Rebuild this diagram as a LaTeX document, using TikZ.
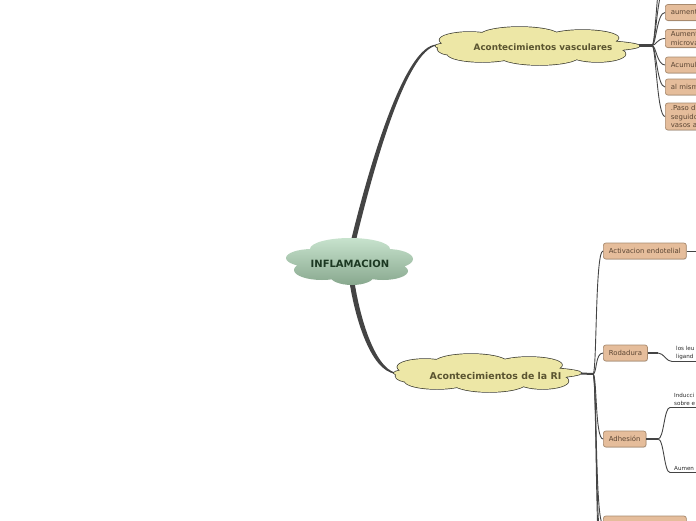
\documentclass[tikz,border=0pt]{standalone}
\usepackage{fontspec}
\setmainfont{DejaVu Sans}
\usetikzlibrary{shadows}
\definecolor{linec}{RGB}{68,68,68}
\definecolor{boxfill}{RGB}{229,189,155}
\definecolor{boxdraw}{RGB}{168,138,110}
\definecolor{boxtext}{RGB}{92,70,52}
\definecolor{cloudy}{RGB}{237,231,166}
\definecolor{cloudedge}{RGB}{60,60,50}
\definecolor{cloudytext}{RGB}{90,84,48}
\definecolor{greentop}{RGB}{202,229,208}
\definecolor{greenbot}{RGB}{132,164,138}
\definecolor{greentext}{RGB}{28,56,34}
\definecolor{leafc}{RGB}{40,40,40}
\begin{document}
\begin{tikzpicture}[x=1pt,y=-1pt,
  conn/.style={draw=linec, line width=0.9pt},
  thickconn/.style={draw=linec, line width=2.2pt},
  topicbox/.style={draw=boxdraw, fill=boxfill, rounded corners=2.5pt, line width=0.7pt,
    inner xsep=5.5pt, inner ysep=2.2pt, minimum height=16pt, text=boxtext,
    font=\fontsize{6.9}{8.6}\selectfont, align=left, anchor=west,
    drop shadow={shadow xshift=0.5pt, shadow yshift=-0.8pt, opacity=0.25}},
  cutbox/.style={topicbox, text width=50pt},
  leaftext/.style={inner xsep=4pt, inner ysep=1.5pt, font=\fontsize{5.6}{8}\selectfont,
    text=leafc, align=left, anchor=south west},
  cloudtext/.style={font=\bfseries\fontsize{8.8}{10}\selectfont, text=cloudytext},
  ycloud/.pic={
    \draw[draw=cloudedge, line width=1.4pt]
      (0,0) ellipse [x radius=102, y radius=7]
      (-68,-6) ellipse [x radius=30, y radius=8]
      (-18,-10) ellipse [x radius=40, y radius=9]
      (45,-8) ellipse [x radius=36, y radius=8]
      (-55,8) ellipse [x radius=35, y radius=8]
      (2,10) ellipse [x radius=40, y radius=9]
      (60,8) ellipse [x radius=28, y radius=8]
      (-85,3) ellipse [x radius=15, y radius=6]
      (0,0) ellipse [x radius=80, y radius=12];
    \fill[cloudy]
      (0,0) ellipse [x radius=102, y radius=7]
      (-68,-6) ellipse [x radius=30, y radius=8]
      (-18,-10) ellipse [x radius=40, y radius=9]
      (45,-8) ellipse [x radius=36, y radius=8]
      (-55,8) ellipse [x radius=35, y radius=8]
      (2,10) ellipse [x radius=40, y radius=9]
      (60,8) ellipse [x radius=28, y radius=8]
      (-85,3) ellipse [x radius=15, y radius=6]
      (0,0) ellipse [x radius=80, y radius=12];
  },
  gcloud/.pic={
    \begin{scope}
      \clip
        (0,-13) ellipse [x radius=40, y radius=11]
        (-38,-4) ellipse [x radius=26, y radius=9]
        (37,-3) ellipse [x radius=26, y radius=10]
        (-28,8) ellipse [x radius=28, y radius=10]
        (33,9) ellipse [x radius=25, y radius=9]
        (2,14) ellipse [x radius=22, y radius=9]
        (0,0) ellipse [x radius=50, y radius=15];
      \shade[top color=greentop, bottom color=greenbot] (-70,-26) rectangle (70,26);
    \end{scope}
  }]
\useasboundingbox (0,0) rectangle (696,520);
\clip (0,0) rectangle (696,520);

% main tapered connectors
\fill[linec] (347.5,255) .. controls (367.5,170) and (404,44.5) .. (437,44.5)
  -- (437,45.5) .. controls (406,49.5) and (372.5,170) .. (352.5,255) -- cycle;
\fill[linec] (347.5,268) .. controls (353.5,318) and (371,371) .. (395,373.6)
  -- (395,372.6) .. controls (375,367) and (358.5,318) .. (352.5,268) -- cycle;

% clouds
\pic at (350,262) {gcloud};
\pic at (537.5,46) {ycloud};
\pic[xscale=0.92] at (487.5,373) {ycloud};

\node[font=\bfseries\fontsize{10}{12}\selectfont, text=greentext] (root) at (350,264) {INFLAMACION};
\node[cloudtext] (vasc) at (543,47.5) {Acontecimientos vasculares};
\node[cloudtext, font=\bfseries\fontsize{9.4}{11}\selectfont] (ri) at (495.5,376) {Acontecimientos de la RI};

% junctions and free ends
\coordinate (vascR) at (639,45.5);
\coordinate (J1) at (652,45.5);
\coordinate (riR) at (581,373.5);
\coordinate (J2) at (593,374);
\coordinate (up1) at (665,-12);
\coordinate (up2) at (665,-38);
\coordinate (dn1) at (603,552);
\coordinate (dn2) at (603,585);

% upper boxes
\node[cutbox] (b1) at (665,12.5) {aument};
\node[cutbox] (b2) at (665,38.5) {Aument\\microva};
\node[cutbox] (b3) at (665,65) {Acumul};
\node[cutbox] (b4) at (665,87) {al mism};
\node[cutbox] (b5) at (665,116.5) {.Paso d\\seguido\\vasos a};

\draw[thickconn] (vascR) -- (J1);
\foreach \t in {up2,up1,b1,b2,b3,b4,b5}
  \draw[conn] (J1) .. controls +(4,0) and +(-8,0) .. (\t.west);

% lower boxes
\node[topicbox] (act) at (603,251) {Activacion endotelial};
\node[topicbox] (rod) at (603,353) {Rodadura};
\node[topicbox] (adh) at (603,439) {Adhesión};
\node[topicbox, minimum width=83pt] (last) at (603,524) {};

\draw[thickconn, line width=2pt] (riR) -- (J2);
\foreach \t in {act,rod,adh,last,dn1,dn2}
  \draw[conn] (J2) .. controls +(4,0) and +(-8,0) .. (\t.west);

% activacion
\coordinate (actR) at (700,251);
\draw[conn] (act.east) -- (actR);

% rodadura leaf
\coordinate (J3) at (658,353);
\node[leaftext] (l1) at (672,361.5) {los leu\\ligand};
\coordinate (l1R) at (700,361.5);
\draw[conn, line width=1.2pt] (rod.east) -- (J3);
\draw[conn] (J3) .. controls +(6,0) and +(-6,0) .. (l1.south west) -- (l1R);

% adhesion leaves
\coordinate (J4) at (658,439);
\node[leaftext] (l2) at (670,407.5) {Inducci\\sobre e};
\node[leaftext] (l3) at (670,472.5) {Aumen};
\coordinate (l2R) at (700,407.5);
\coordinate (l3R) at (700,472.5);
\draw[conn, line width=1.2pt] (adh.east) -- (J4);
\draw[conn] (J4) .. controls +(6,0) and +(-6,0) .. (l2.south west) -- (l2R);
\draw[conn] (J4) .. controls +(6,0) and +(-6,0) .. (l3.south west) -- (l3R);
\end{tikzpicture}
\end{document}
